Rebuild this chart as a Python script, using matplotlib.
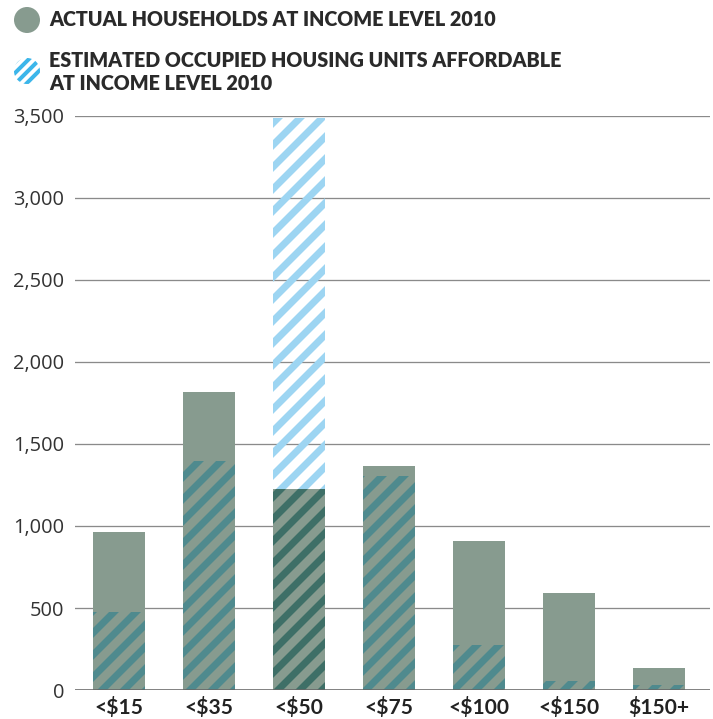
import matplotlib
matplotlib.use("Agg")
import matplotlib.pyplot as plt
from matplotlib.patches import Circle
import numpy as np

categories = ["<$15", "<$35", "<$50", "<$75", "<$100", "<$150", "$150+"]
actual_households = [965, 1815, 1228, 1368, 910, 592, 134]
affordable_units = [475, 1398, 3488, 1307, 276, 55, 32]
y_ticks = [0, 500, 1000, 1500, 2000, 2500, 3000, 3500]

GRAY = "#879b8f"
TEAL = "#4f8a8e"
DARK_TEAL = "#3e6f67"
LIGHT_BLUE = "#9dd5f2"
LEG_BLUE = "#3cb6ea"

DPI = 132
W, H = 713, 719


def pt(px):
    return px * 72.0 / DPI


plt.rcParams["hatch.linewidth"] = pt(7)
fig = plt.figure(figsize=(W / DPI, H / DPI), dpi=DPI)

left, right, top, bottom = 75, 710, 116, 690
ax = fig.add_axes([left / W, (H - bottom) / H, (right - left) / W, (bottom - top) / H])

x = np.arange(len(categories))
bw = 0.58
ax.bar(x, actual_households, width=bw, color=GRAY, zorder=2, linewidth=0)

overlap = np.minimum(actual_households, affordable_units)
excess = np.maximum(np.array(affordable_units) - np.array(actual_households), 0)
hatch_cols = [DARK_TEAL if a > h else TEAL for a, h in zip(affordable_units, actual_households)]
for xi, ov, col in zip(x, overlap, hatch_cols):
    ax.bar(xi, ov, width=bw, facecolor="none", edgecolor=col, hatch="//", linewidth=0, zorder=3)
ax.bar(x, excess, bottom=actual_households, width=bw, facecolor="none",
       edgecolor=LIGHT_BLUE, hatch="//", linewidth=0, zorder=3)

ax.set_xlim(-0.49, 6.57)
ax.set_ylim(0, 3500)
ax.set_yticks(y_ticks)
ax.set_yticklabels([f"{v:,}" for v in y_ticks], fontsize=pt(20), color="#333333",
                   family="Open Sans")
ax.set_xticks(x)
ax.set_xticklabels(categories, fontsize=pt(21), color="#222222", family="Lato",
                   fontweight="bold")
ax.tick_params(axis="x", length=0, pad=pt(7))
ax.tick_params(axis="y", length=0, pad=pt(11))
for s in ax.spines.values():
    s.set_visible(False)
for t in y_ticks[1:]:
    ax.axhline(t, color="#8a8a8a", linewidth=pt(1.3), zorder=1)
ax.axhline(0, color="#666666", linewidth=pt(1.6), zorder=4)

# legend
lax = fig.add_axes([0, 0, 1, 1])
lax.set_xlim(0, W)
lax.set_ylim(H, 0)
lax.axis("off")
lax.add_patch(Circle((27, 20), 13, facecolor=GRAY, edgecolor="none"))
plt.rcParams["hatch.linewidth"] = pt(4)
lax.add_patch(Circle((27, 71), 13, facecolor="white", edgecolor=LEG_BLUE, hatch="////", linewidth=0))
txt_kw = dict(fontsize=pt(19.8), family="Lato", fontweight="heavy", color="#2a2a2a",
              va="baseline", ha="left")
lax.text(49, 26, "ACTUAL HOUSEHOLDS AT INCOME LEVEL 2010", **txt_kw)
lax.text(49, 67, "ESTIMATED OCCUPIED HOUSING UNITS AFFORDABLE", **txt_kw)
lax.text(49, 90, "AT INCOME LEVEL 2010", **txt_kw)

fig.savefig("out.png", dpi=DPI)
